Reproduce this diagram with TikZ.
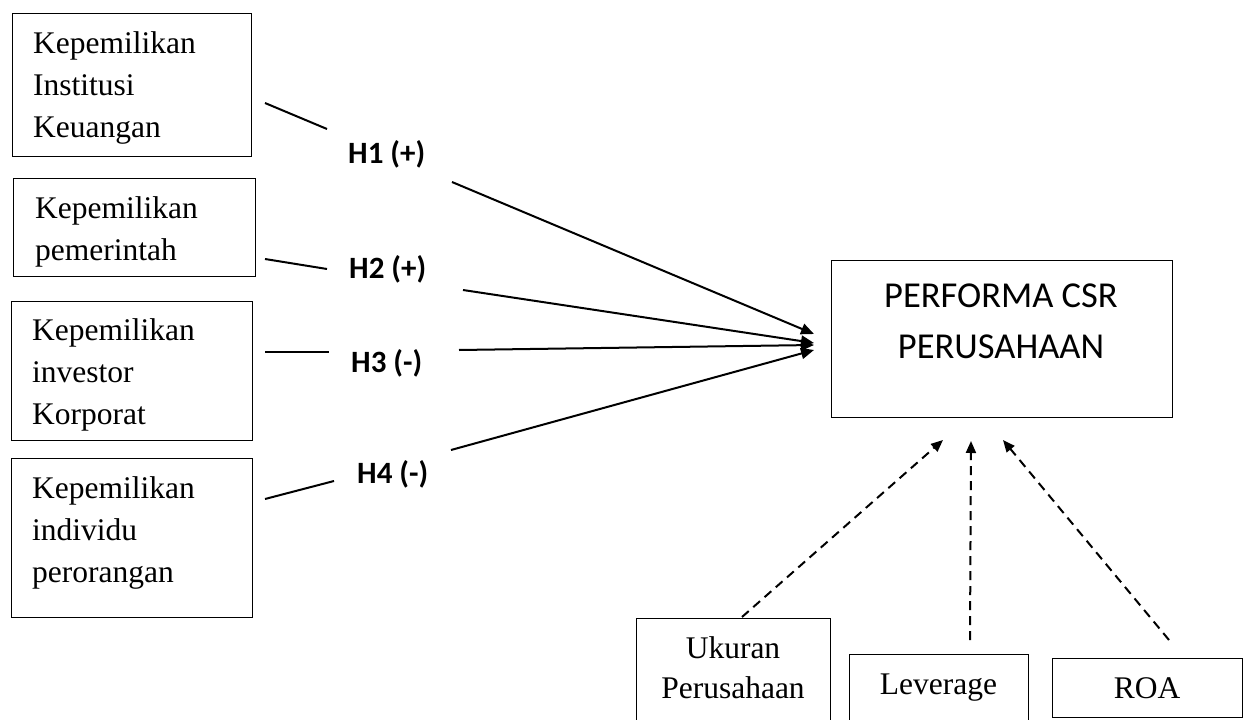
\documentclass[tikz,border=0pt]{standalone}
\usepackage{fontspec}
\setmainfont{Liberation Serif}
\newfontfamily\carlito{Carlito}
\usetikzlibrary{arrows.meta}
\begin{document}
\begin{tikzpicture}[x=1pt,y=-1pt,
  frame/.style={draw, line width=1.3pt, rectangle, anchor=north west, inner sep=0pt},
  boxtext/.style={anchor=base west, align=left, inner sep=0pt, font=\fontsize{31.5}{42}\selectfont},
  ctext/.style={anchor=base, align=center, inner sep=0pt, font=\fontsize{31.5}{40}\selectfont},
  maintext/.style={anchor=base, align=center, inner sep=0pt, font=\carlito\fontsize{36.5}{51}\selectfont},
  hyp/.style={anchor=base west, inner sep=0pt, font=\carlito\bfseries\fontsize{31}{36}\selectfont},
  link/.style={line width=2pt},
  effect/.style={line width=2pt, -{Triangle[length=13pt,width=11pt]}},
  control/.style={line width=2pt, dash pattern=on 9pt off 6pt, -{Triangle[length=12pt,width=10pt]}}
]
\useasboundingbox (0,0) rectangle (1251,720);
\fill[white] (0,0) rectangle (1251,720);

% frames
\node[frame, minimum width=239pt, minimum height=143pt] (b1) at (12,13) {};
\node[frame, minimum width=242pt, minimum height=98pt] (b2) at (13,178) {};
\node[frame, minimum width=241pt, minimum height=139pt] (b3) at (11,301) {};
\node[frame, minimum width=241pt, minimum height=159pt] (b4) at (11,458) {};
\node[frame, minimum width=341pt, minimum height=157pt] (main) at (831,260) {};
\node[frame, minimum width=194pt, minimum height=104pt] (bu) at (636,618) {};
\node[frame, minimum width=179pt, minimum height=68pt] (bl) at (849,654) {};
\node[frame, minimum width=190pt, minimum height=59pt] (br) at (1052,658) {};

% texts (anchored at the baseline of the last line)
\node[boxtext] (t1) at (33,137) {Kepemilikan\\Institusi\\Keuangan};
\node[boxtext] (t2) at (35,260) {Kepemilikan\\pemerintah};
\node[boxtext] (t3) at (32,424) {Kepemilikan\\investor\\Korporat};
\node[boxtext] (t4) at (32,582) {Kepemilikan\\individu\\perorangan};
\node[maintext] (tm) at (1001,358) {PERFORMA CSR\\PERUSAHAAN};
\node[ctext] (tu) at (733,698) {Ukuran\\Perusahaan};
\node[ctext] (tl) at (938.5,694) {Leverage};
\node[ctext] (tr) at (1147,698) {ROA};

% hypothesis labels
\node[hyp] (h1) at (348,163) {H1 (+)};
\node[hyp] (h2) at (349,278) {H2 (+)};
\node[hyp] (h3) at (351,372) {H3 (-)};
\node[hyp] (h4) at (357,483) {H4 (-)};

% coordinates
\coordinate (l1a) at (265,103); \coordinate (l1b) at (327,129);
\coordinate (l2a) at (265,259); \coordinate (l2b) at (327,269);
\coordinate (l3a) at (265,352); \coordinate (l3b) at (329,352);
\coordinate (l4a) at (265,499); \coordinate (l4b) at (334,481);
\coordinate (h1s) at (452,182); \coordinate (h1e) at (814,334);
\coordinate (h2s) at (463,290); \coordinate (h2e) at (814,343);
\coordinate (h3s) at (459,350); \coordinate (h3e) at (814,345);
\coordinate (h4s) at (451,450); \coordinate (h4e) at (814,350);
\coordinate (cus) at (742,617); \coordinate (cue) at (943,440);
\coordinate (cls) at (970,640); \coordinate (cle) at (971,441);
\coordinate (crs) at (1169,640); \coordinate (cre) at (1003,440);

\draw[link] (l1a) -- (l1b);
\draw[link] (l2a) -- (l2b);
\draw[link] (l3a) -- (l3b);
\draw[link] (l4a) -- (l4b);
\draw[effect] (h1s) -- (h1e);
\draw[effect] (h2s) -- (h2e);
\draw[effect] (h3s) -- (h3e);
\draw[effect] (h4s) -- (h4e);
\draw[control] (cus) -- (cue);
\draw[control] (cls) -- (cle);
\draw[control] (crs) -- (cre);
\end{tikzpicture}
\end{document}
